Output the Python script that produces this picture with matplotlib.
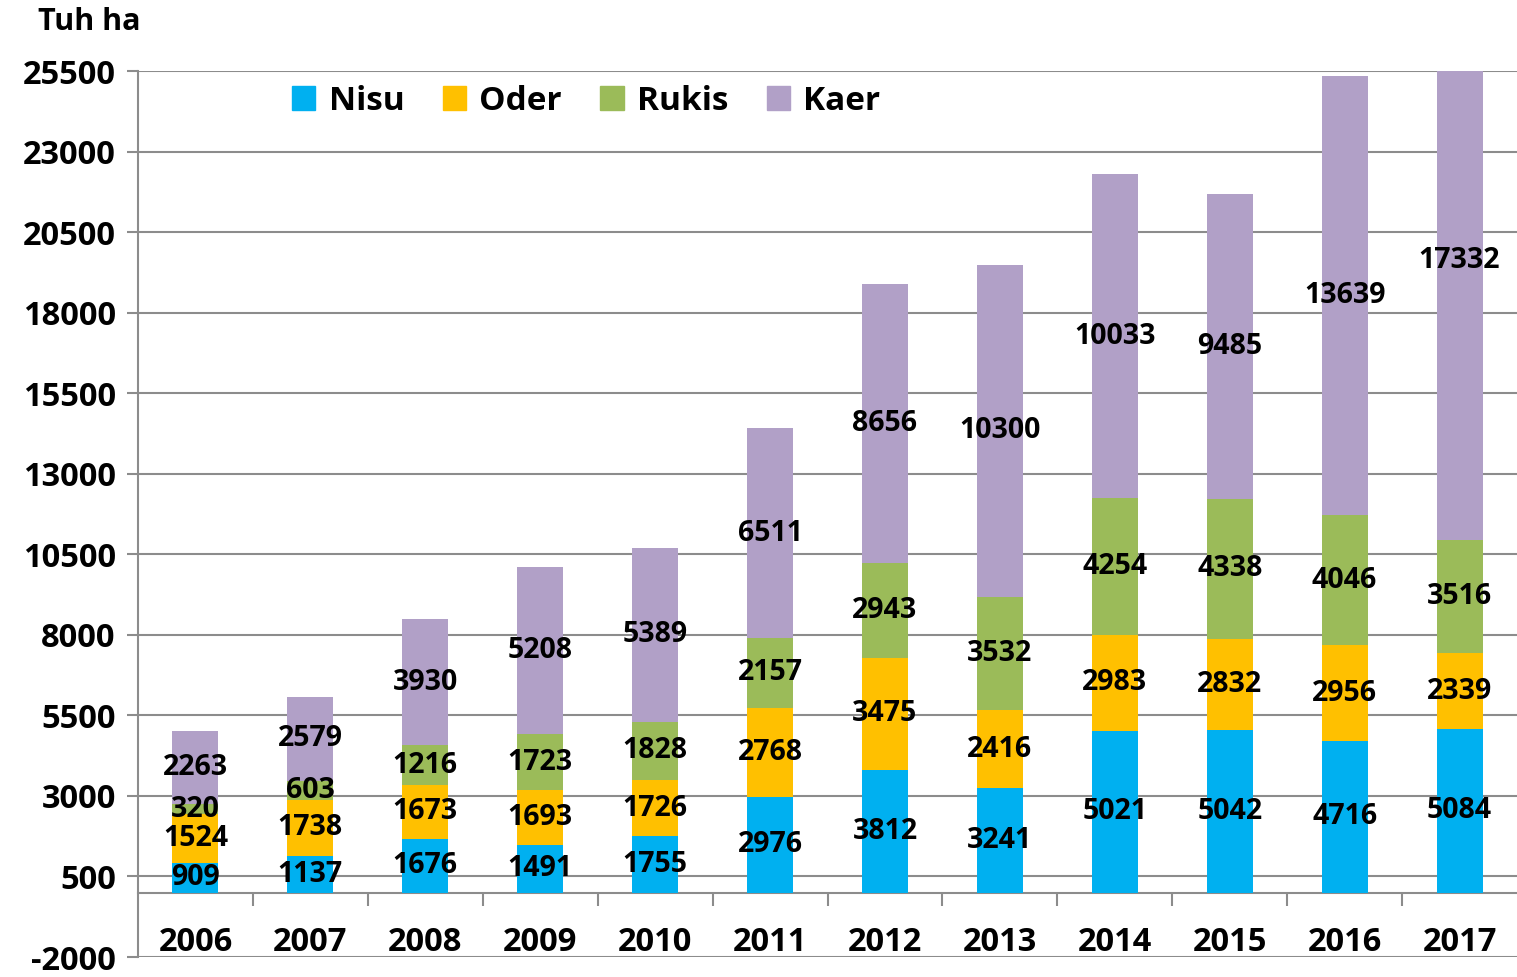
import numpy as np
import matplotlib.pyplot as plt
from matplotlib.patches import Patch

plt.rcParams['font.family'] = ['Open Sans', 'DejaVu Sans']
plt.rcParams['font.weight'] = 'bold'
plt.rcParams['axes.unicode_minus'] = False

years = ['2006', '2007', '2008', '2009', '2010', '2011',
         '2012', '2013', '2014', '2015', '2016', '2017']
nisu = [909, 1137, 1676, 1491, 1755, 2976, 3812, 3241, 5021, 5042, 4716, 5084]
oder = [1524, 1738, 1673, 1693, 1726, 2768, 3475, 2416, 2983, 2832, 2956, 2339]
rukis = [320, 603, 1216, 1723, 1828, 2157, 2943, 3532, 4254, 4338, 4046, 3516]
kaer = [2263, 2579, 3930, 5208, 5389, 6511, 8656, 10300, 10033, 9485, 13639, 17332]

series = [('Nisu', nisu, '#00B0F0'),
          ('Oder', oder, '#FFC000'),
          ('Rukis', rukis, '#9BBB59'),
          ('Kaer', kaer, '#B1A0C7')]

fig = plt.figure(figsize=(15.17, 9.77), dpi=100)
ax = fig.add_axes([138 / 1517, 20 / 977, 1 - 138 / 1517, (957 - 71) / 977])

x = np.arange(len(years))
bottom = np.zeros(len(years))
for name, vals, col in series:
    vals = np.array(vals)
    ax.bar(x, vals, width=0.4, bottom=bottom, color=col, zorder=3)
    for xi, b, v in zip(x, bottom, vals):
        ax.text(xi, b + v / 2, str(v), ha='center', va='center',
                fontsize=20.5, fontweight='bold', color='black', zorder=5)
    bottom += vals

ax.set_xlim(-0.5, len(years) - 0.5)
ax.set_ylim(-2000, 25500)
ax.set_yticks(np.arange(-2000, 25501, 2500))
ax.yaxis.grid(True, color='#8C8C8C', linewidth=1.5, zorder=0)
ax.tick_params(axis='y', length=8, width=1.5, color='#8C8C8C',
               labelsize=23.5, pad=8)

ax.spines['bottom'].set_position(('data', 0))
ax.spines['bottom'].set_color('#8C8C8C')
ax.spines['bottom'].set_linewidth(1.5)
ax.spines['left'].set_color('#8C8C8C')
ax.spines['left'].set_linewidth(1.5)
ax.spines['top'].set_visible(False)
ax.spines['right'].set_visible(False)

ax.set_xticks(x)
ax.set_xticklabels(years)
ax.set_xticks(np.arange(0.5, len(years) - 0.5), minor=True)
ax.tick_params(axis='x', which='major', length=0, labelsize=23.5, pad=24)
ax.tick_params(axis='x', which='minor', length=9, width=1.5,
               color='#8C8C8C', direction='out')

for lbl in ax.get_xticklabels() + ax.get_yticklabels():
    lbl.set_fontweight('bold')

fig.text(38 / 1517, 1 - 22 / 977, 'Tuh ha', fontsize=22, fontweight='bold',
         va='center', ha='left')

handles = [Patch(color=c, label=n) for n, _, c in series]
fig.legend(handles=handles, loc='center left',
           bbox_to_anchor=(262 / 1517, 1 - 101 / 977), ncol=4, frameon=False,
           prop={'size': 24, 'weight': 'bold'}, handlelength=0.7,
           handleheight=0.7, handletextpad=0.4, columnspacing=1.15)

fig.savefig('out.png', dpi=100)
